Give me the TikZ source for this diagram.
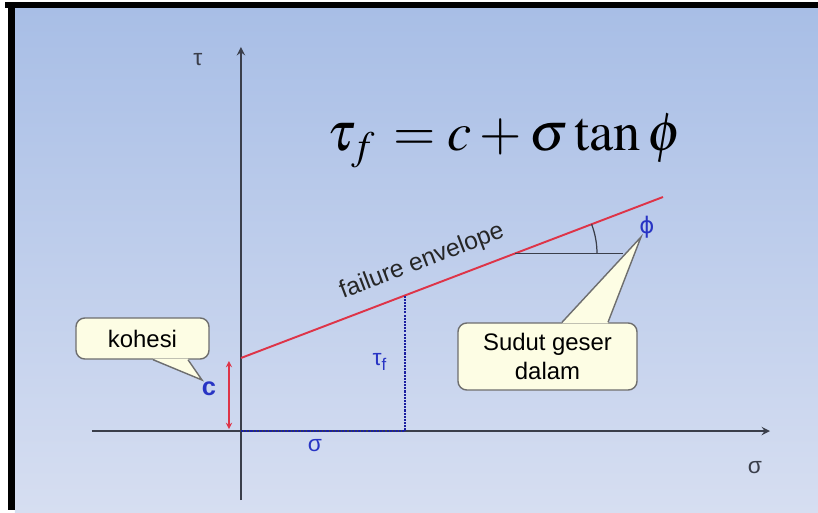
\documentclass[tikz,border=0pt]{standalone}
\usepackage{mathptmx}
\usepackage{fontspec}
\setmainfont{Liberation Sans}
\newfontfamily\phifont{DejaVu Sans}
\usetikzlibrary{arrows,positioning,calc}
\definecolor{bgtop}{RGB}{168,190,230}
\definecolor{bgbot}{RGB}{214,222,241}
\definecolor{axisgray}{RGB}{58,62,74}
\definecolor{envred}{RGB}{222,52,72}
\definecolor{lblblue}{RGB}{40,52,196}
\definecolor{dotblue}{RGB}{26,30,160}
\definecolor{notefill}{RGB}{253,253,228}
\definecolor{noteline}{RGB}{110,110,110}

\begin{document}
\begin{tikzpicture}[>=stealth,
    axis/.style={draw=axisgray, line width=1.1pt, ->},
    axlbl/.style={text=axisgray, font=\fontsize{13}{15}\selectfont},
    bluelbl/.style={text=lblblue, font=\fontsize{13}{15}\selectfont},
    note/.style={draw=noteline, fill=notefill, rounded corners=5pt, line width=0.8pt,
        align=center, inner sep=0pt, font=\fontsize{13.6}{16.4}\selectfont}]
    \useasboundingbox (-4.82,-1.62) rectangle (11.54,8.62);
    % frame and background
    \fill[white] (-4.82,-1.62) rectangle (11.54,8.62);
    \shade[top color=bgtop, bottom color=bgbot] (-4.52,-1.62) rectangle (11.54,8.46);
    \fill[black] (-4.72,8.46) rectangle (11.54,8.58);
    \fill[black] (-4.66,-1.58) rectangle (-4.52,8.58);

    \path
    (0,0) coordinate (O)
    (0,-1.38) coordinate (ybot)
    (0,7.68) coordinate (ytop)
    (-2.98,0) coordinate (xleft)
    (10.58,0) coordinate (xright)
    (0,1.46) coordinate (cpt)
    (8.44,4.68) coordinate (fend)
    (5.48,3.55) coordinate (hz1)
    (7.64,3.55) coordinate (hz2)
    (3.28,0) coordinate (sx)
    (3.28,2.71) coordinate (sy)
    (-0.24,0.04) coordinate (cb)
    (-0.24,1.40) coordinate (ct)
    (-0.78,1.02) coordinate (ktip)
    (8.00,3.88) coordinate (stip)
    ;

    % axes
    \draw[axis] (xleft) -- (xright);
    \draw[axis] (ybot) -- (ytop);
    \node[axlbl] (tau) at (-0.86,7.42) {τ};
    \node[axlbl] (sig) at (10.28,-0.74) {σ};

    % envelope
    \draw[envred, line width=1.1pt] (cpt) -- (fend);
    \node[rotate=20.88, text=black!85, font=\fontsize{14}{16}\selectfont] (env) at (3.62,3.38) {failure envelope};
    \draw[axisgray, line width=0.8pt] (hz1) -- (hz2);
    \draw[axisgray, line width=0.7pt] (hz1) ++(0:1.64) arc[start angle=0, end angle=20.88, radius=1.64];
    \node[bluelbl] (phi) at (8.12,4.08) {\phifont ϕ};

    % stresses
    \draw[dotblue, line width=1.3pt, dash pattern=on 1.2pt off 0.6pt] (O) -- (sx) -- (sy);
    \node[bluelbl] (sigf) at (1.48,-0.30) {σ};
    \node[bluelbl] (tauf) at (2.78,1.38) {τ\textsubscript{f}};
    \draw[envred, line width=0.6pt, <->] (cb) -- (ct);
    \node[bluelbl, font=\fontsize{14.5}{16}\selectfont\bfseries] (cc) at (-0.64,0.84) {c};

    % law
    \node (law) at (5.27,5.80) {\fontsize{31}{36}\selectfont $\tau_f\, = c + \sigma\tan\phi$};

    % callouts
    \node[note, minimum width=2.66cm, minimum height=0.82cm] (kohesi) at (-1.97,1.85) {kohesi};
    \path (kohesi.south) ++(0.21,0) coordinate (kb1) ++(0.70,0) coordinate (kb2);
    \fill[notefill] ([yshift=0.6pt]kb1) -- (ktip) -- ([yshift=0.6pt]kb2) -- cycle;
    \draw[noteline, line width=0.8pt] (kb1) -- (ktip) -- (kb2);

    \node[note, minimum width=3.58cm, minimum height=1.34cm] (sudut) at (6.13,1.49) {Sudut geser\\dalam};
    \path (sudut.north) ++(0.29,0) coordinate (sb1) ++(0.92,0) coordinate (sb2);
    \fill[notefill] ([yshift=-0.6pt]sb1) -- (stip) -- ([yshift=-0.6pt]sb2) -- cycle;
    \draw[noteline, line width=0.8pt] (sb1) -- (stip) -- (sb2);
\end{tikzpicture}
\end{document}
